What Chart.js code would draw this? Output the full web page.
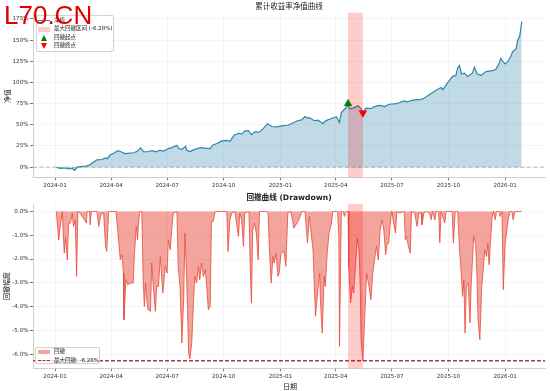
<!DOCTYPE html>
<html><head><meta charset="utf-8">
<script src="https://cdn.jsdelivr.net/npm/chart.js@4.4.0/dist/chart.umd.min.js"></script>
<style>
html,body{margin:0;padding:0;background:#fff;}
#wrap{position:relative;width:550px;height:391px;overflow:hidden;font-family:'DejaVu Sans','Noto Sans CJK SC',sans-serif;color:#222;}
canvas{position:absolute;left:0;}
#c1{top:0;}
#c2{top:196px;}
.t{position:absolute;white-space:nowrap;line-height:1;}
.c{transform:translate(-50%,-50%);}
.r{transform:translate(-50%,-50%) rotate(-90deg);}
.lg{position:absolute;background:rgba(255,255,255,0.8);border:1px solid rgba(204,204,204,0.9);border-radius:2px;box-sizing:border-box;}
.li{position:absolute;white-space:nowrap;line-height:1;font-size:5.5px;transform:translateY(-50%);}
</style>
</head><body>
<div id="wrap">
<canvas id="c1" width="550" height="196"></canvas>
<canvas id="c2" width="550" height="195"></canvas>

<div class="t c" style="left:289px;top:6.5px;font-size:7.5px;">累计收益率净值曲线</div>
<div class="t c" style="left:289px;top:197.7px;font-size:7.6px;font-weight:bold;">回撤曲线 (Drawdown)</div>
<div class="t r" style="left:7.5px;top:96px;font-size:7px;">净值</div>
<div class="t r" style="left:7px;top:286px;font-size:7px;">回撤幅度</div>
<div class="t c" style="left:290px;top:387px;font-size:7px;">日期</div>

<div class="lg" style="left:36px;top:15px;width:78px;height:37px;"></div>
<div style="position:absolute;left:38px;top:20px;width:12px;height:1.4px;background:#2E86AB;"></div>
<div class="li" style="left:54px;top:20.7px;">净值</div>
<div style="position:absolute;left:38px;top:27px;width:12px;height:4.5px;background:rgba(255,0,0,0.2);"></div>
<div class="li" style="left:54px;top:29.3px;">最大回撤区间 (-6.28%)</div>
<div style="position:absolute;left:40.5px;top:35px;width:0;height:0;border-left:3.5px solid transparent;border-right:3.5px solid transparent;border-bottom:6.5px solid green;"></div>
<div class="li" style="left:54px;top:38.3px;">回撤起点</div>
<div style="position:absolute;left:40.5px;top:42.5px;width:0;height:0;border-left:3.5px solid transparent;border-right:3.5px solid transparent;border-top:6.5px solid red;"></div>
<div class="li" style="left:54px;top:45.7px;">回撤终点</div>

<div class="lg" style="left:35px;top:347px;width:65px;height:16.5px;"></div>
<div style="position:absolute;left:38px;top:349.8px;width:12px;height:4.5px;background:rgba(231,76,60,0.5);"></div>
<div class="li" style="left:54px;top:352px;">回撤</div>
<div style="position:absolute;left:38px;top:360px;width:12px;height:0;border-top:1.5px dashed rgba(139,0,0,0.8);"></div>
<div class="li" style="left:54px;top:360.5px;">最大回撤: -6.28%</div>

<div class="t" style="left:4px;top:1.6px;font-size:26px;font-family:'Liberation Sans',Arial,sans-serif;color:#e00000;">L70.CN</div>
</div>

<script>
// ---------- data ----------
const navDates = ['2024-01-03','2024-01-10','2024-01-16','2024-01-23','2024-01-29','2024-02-02','2024-02-06','2024-02-11','2024-02-19','2024-02-27',
'2024-03-09','2024-03-17','2024-03-23','2024-03-26','2024-03-30','2024-04-05','2024-04-12','2024-04-16','2024-04-24','2024-05-01',
'2024-05-08','2024-05-14','2024-05-19','2024-05-24','2024-06-01','2024-06-07','2024-06-12','2024-06-20','2024-06-26','2024-07-03',
'2024-07-09','2024-07-17','2024-07-20','2024-07-25','2024-07-31','2024-08-02','2024-08-07','2024-08-15','2024-08-24','2024-09-01',
'2024-09-09','2024-09-13','2024-09-20','2024-09-28','2024-10-06','2024-10-11','2024-10-18','2024-10-25','2024-10-30','2024-11-04',
'2024-11-10','2024-11-15','2024-11-21','2024-11-27','2024-12-04','2024-12-11','2024-12-18','2024-12-27','2025-01-05','2025-01-13',
'2025-01-22','2025-01-30','2025-02-05','2025-02-10','2025-02-14','2025-02-17','2025-02-25','2025-03-03','2025-03-11','2025-03-16',
'2025-03-22','2025-03-27','2025-04-02','2025-04-07','2025-04-10','2025-04-14','2025-04-18','2025-04-21','2025-04-23','2025-04-30',
'2025-05-07','2025-05-12','2025-05-15','2025-05-20','2025-05-27','2025-06-06','2025-06-13','2025-06-19','2025-06-27','2025-07-08',
'2025-07-13','2025-07-21','2025-07-26','2025-08-01','2025-08-07','2025-08-18','2025-08-23','2025-09-01','2025-09-11','2025-09-19',
'2025-09-22','2025-09-30','2025-10-08','2025-10-13','2025-10-16','2025-10-19','2025-10-22','2025-10-27','2025-11-01','2025-11-09',
'2025-11-12','2025-11-17','2025-11-23','2025-12-01','2025-12-06','2025-12-12','2025-12-17','2025-12-22','2025-12-25','2025-12-29',
'2026-01-01','2026-01-05','2026-01-10','2026-01-13','2026-01-19','2026-01-21','2026-01-25','2026-01-28'];
const navValues = [-0.4,-1.5,-1.0,-2.0,-1.5,-3.9,0.0,0.5,0.8,3.0,
8.6,9.0,10.9,10.0,14.0,16.5,19.5,18.5,16.0,16.5,
17.0,19.0,22.7,18.0,18.5,19.5,18.0,19.9,19.0,21.9,
23.0,25.8,22.0,21.0,24.6,20.0,18.4,21.0,23.0,22.5,
22.0,25.8,28.0,31.0,31.5,30.5,37.6,40.0,39.0,42.6,
43.0,38.4,42.0,41.0,45.4,51.3,48.0,47.5,49.0,49.5,
52.4,55.0,56.0,59.8,58.0,58.5,54.8,55.5,51.6,55.0,
56.5,58.0,59.6,52.8,64.5,67.5,70.4,75.0,69.0,70.0,
72.4,69.0,64.0,69.6,69.0,72.4,73.0,71.5,74.3,75.0,
76.0,78.2,77.0,78.5,79.4,80.0,81.7,86.0,90.8,94.0,
91.5,99.8,107.6,108.0,117.4,120.0,110.0,111.0,107.0,111.0,
118.0,110.0,108.4,113.0,113.5,114.0,115.5,122.0,128.4,124.0,
122.0,124.5,130.0,136.3,140.0,148.7,155.8,172.0];

const ddDates = ['2024-01-03','2024-01-07','2024-01-10','2024-01-13','2024-01-14','2024-01-16','2024-01-18','2024-01-21','2024-01-23','2024-01-26',
'2024-01-29','2024-01-31','2024-02-03','2024-02-05','2024-02-07','2024-02-11','2024-02-16','2024-02-21','2024-02-22','2024-02-26',
'2024-02-27','2024-02-29','2024-03-09','2024-03-12','2024-03-15','2024-03-17','2024-03-20','2024-03-23','2024-03-25','2024-03-28',
'2024-04-09','2024-04-12','2024-04-16','2024-04-19','2024-04-21','2024-04-22','2024-04-25','2024-04-28','2024-05-02','2024-05-07',
'2024-05-09','2024-05-12','2024-05-14','2024-05-16','2024-05-18','2024-05-21','2024-05-23','2024-05-25','2024-05-27','2024-05-29',
'2024-05-31','2024-06-04','2024-06-06','2024-06-09','2024-06-12','2024-06-14','2024-06-17','2024-06-20','2024-06-24','2024-06-28',
'2024-07-01','2024-07-03','2024-07-06','2024-07-09','2024-07-11','2024-07-17','2024-07-19','2024-07-22','2024-07-25','2024-07-28',
'2024-07-30','2024-08-02','2024-08-05','2024-08-07','2024-08-10','2024-08-13','2024-08-15','2024-08-18','2024-08-21','2024-08-23',
'2024-08-26','2024-08-29','2024-09-01','2024-09-03','2024-09-06','2024-09-09','2024-09-11','2024-09-14','2024-09-17','2024-10-06',
'2024-10-08','2024-10-11','2024-10-14','2024-10-19','2024-10-25','2024-10-27','2024-10-30','2024-11-02','2024-11-04','2024-11-11',
'2024-11-13','2024-11-15','2024-11-17','2024-11-20','2024-11-23','2024-11-26','2024-11-28','2024-12-09','2024-12-12','2024-12-14',
'2024-12-17','2024-12-20','2024-12-22','2024-12-25','2024-12-28','2024-12-30','2025-01-02','2025-01-07','2025-01-10','2025-01-13',
'2025-01-18','2025-01-23','2025-01-31','2025-02-05','2025-02-10','2025-02-14','2025-02-17','2025-02-23','2025-02-27','2025-03-03',
'2025-03-06','2025-03-07','2025-03-10','2025-03-13','2025-03-15','2025-03-18','2025-03-21','2025-03-25','2025-03-27','2025-04-04',
'2025-04-06','2025-04-07','2025-04-10','2025-04-13','2025-04-15','2025-04-18','2025-04-21','2025-04-22','2025-04-25','2025-04-28',
'2025-04-30','2025-05-03','2025-05-06','2025-05-09','2025-05-11','2025-05-12','2025-05-15','2025-05-16','2025-05-18','2025-05-21',
'2025-05-25','2025-05-28','2025-05-31','2025-06-03','2025-06-06','2025-06-09','2025-06-12','2025-06-15','2025-06-18','2025-06-21',
'2025-06-23','2025-06-26','2025-06-29','2025-07-01','2025-07-04','2025-07-07','2025-07-09','2025-07-13','2025-07-21','2025-07-23',
'2025-07-25','2025-07-28','2025-07-31','2025-08-02','2025-08-07','2025-08-11','2025-08-14','2025-08-18','2025-08-19','2025-08-22',
'2025-08-26','2025-08-31','2025-09-03','2025-09-05','2025-09-09','2025-09-11','2025-09-15','2025-09-17','2025-09-19','2025-09-25',
'2025-09-27','2025-10-07','2025-10-09','2025-10-12','2025-10-16','2025-10-19','2025-10-21','2025-10-24','2025-10-26','2025-10-28',
'2025-10-30','2025-11-02','2025-11-05','2025-11-07','2025-11-11','2025-11-14','2025-11-16','2025-11-18','2025-11-21','2025-11-24',
'2025-11-26','2025-11-29','2025-12-02','2025-12-04','2025-12-06','2025-12-08','2025-12-11','2025-12-13','2025-12-16','2025-12-18',
'2025-12-22','2025-12-24','2025-12-27','2025-12-29','2026-01-01','2026-01-04','2026-01-06','2026-01-09','2026-01-12','2026-01-14',
'2026-01-17','2026-01-28'];
const ddValues = [0,-1.19,-0.49,0,-0.77,-1.75,-1.1,-2.03,-0.49,-0.49,
-0.07,-0.63,-0.35,-2.73,0,-0.07,-0.28,-0.49,0,0,
-0.56,0,0,-0.63,-0.21,-0.07,-0.07,-1.47,-1.68,0,
0,-0.84,-2.03,-1.82,-2.59,-4.55,-2.87,-3.08,-3.01,-3.01,
-1.75,-0.63,-1.19,-0.35,0,0,-2.73,-3.99,-3.01,-3.71,
-4.13,-4.2,-2.17,-3.29,-4.2,-3.15,-3.15,-1.89,-3.43,-2.31,
-2.59,-1.19,-1.61,-0.63,-0.07,0,-2.31,-3.15,-5.53,-3.57,
-0.91,-3.01,-5.95,-6.2,-5.53,-3.71,-2.73,-3.01,-2.31,-2.87,
-2.17,-2.73,-2.45,-3.01,-4.13,-3.99,-0.42,-0.42,0,0,
-1.68,-0.35,-0.07,0,-1.05,-0.07,-0.35,-1.47,-0.07,0,
-2.31,-3.85,-0.77,-0.49,-0.91,-2.03,0,0,-0.07,-1.47,
-3.01,-1.89,-2.17,-1.75,-2.73,-2.59,-1.75,-1.68,-2.31,-0.07,
0,-0.7,-0.35,0,0,-1.33,-0.21,-1.61,-4.41,-3.29,
-2.59,-3.71,-5.11,-2.73,-3.15,-1.75,-0.91,-0.49,0,0,
-1.05,-5.67,0,0,-0.21,0,0,-2.31,-3.85,-3.15,
-3.43,-2.31,-1.12,-1.75,-3.43,-5.39,-6.28,-5.67,-4.41,-2.59,
-3.15,-3.71,-2.59,-2.03,-1.47,-2.03,-0.77,-0.35,-0.77,-1.82,
-1.4,-1.33,-0.35,0,-0.49,-0.91,0,-0.07,0,-1.19,
-1.05,-1.47,-1.75,0,-0.07,-0.63,-0.07,-0.07,-0.56,-0.07,
0,-0.07,-0.35,0,-0.35,0,0,-1.33,0,-0.49,
0,0,-1.33,0,0,-1.61,-2.31,-3.57,-2.87,-5.11,
-3.15,-3.01,-4.69,-3.01,-1.05,-1.33,-2.45,-4.55,-5.39,-3.15,
-2.59,-1.61,-1.89,-1.33,-2.24,-1.33,-0.21,0,-0.35,0,
0,-0.21,0,-3.29,-1.33,-0.77,-0.35,0,0,-0.35,
0,0];

const peakDate = '2025-04-21', peakValue = 75.0;
const troughDate = '2025-05-15', troughValue = 64.0;
const maxDrawdown = -6.28;

const xTickLabels = ['2024-01','2024-04','2024-07','2024-10','2025-01','2025-04','2025-07','2025-10','2026-01'];
const navTicks = [0,25,50,75,100,125,150,175];
const ddTicks = [0,-1,-2,-3,-4,-5,-6];

// ---------- chart ----------
const toMs = s => Date.parse(s + 'T00:00:00Z');
const firstMs = toMs(navDates[0]), lastMs = toMs(navDates[navDates.length - 1]);
const spanMs = lastMs - firstMs;
const xMin = firstMs - 0.05 * spanMs, xMax = lastMs + 0.05 * spanMs;

const tickFont = {family: "'DejaVu Sans', sans-serif", size: 5.6};
const gridCfg = {color: 'rgba(0,0,0,0.055)', tickColor: '#555', tickLength: 3, lineWidth: 0.8};
const borderCfg = {color: '#cfcfcf', width: 1};

function xScale(h) {
  return {
    type: 'linear', min: xMin, max: xMax,
    afterBuildTicks: s => { s.ticks = xTickLabels.map(l => ({value: toMs(l + '-01')})); },
    afterFit: s => { s.height = h; },
    ticks: {autoSkip: false, maxRotation: 0, minRotation: 0, padding: 1.5, color: '#333', font: tickFont,
      callback: (v, i) => xTickLabels[i]},
    grid: gridCfg, border: borderCfg
  };
}
function yScale(min, max, vals, fmt) {
  return {
    type: 'linear', min: min, max: max,
    afterBuildTicks: s => { s.ticks = vals.map(v => ({value: v})); },
    afterFit: s => { s.width = 33; },
    ticks: {padding: 1.5, color: '#333', font: tickFont, callback: fmt},
    grid: gridCfg, border: borderCfg
  };
}

const topOverlay = {
  id: 'topOverlay',
  afterDatasetDraw(chart, args) {
    if (args.index !== 0) return;
    const {ctx, chartArea: a, scales: {x, y}} = chart;
    ctx.save();
    const y0 = y.getPixelForValue(0);
    ctx.strokeStyle = 'rgba(128,128,128,0.55)';
    ctx.lineWidth = 1;
    ctx.setLineDash([4, 2.5]);
    ctx.beginPath(); ctx.moveTo(a.left, y0); ctx.lineTo(a.right, y0); ctx.stroke();
    ctx.setLineDash([]);
    const x1 = x.getPixelForValue(toMs(peakDate)), x2 = x.getPixelForValue(toMs(troughDate));
    ctx.fillStyle = 'rgba(255,0,0,0.2)';
    ctx.fillRect(x1, a.top, x2 - x1, a.bottom - a.top);
    ctx.restore();
  }
};
const botOverlay = {
  id: 'botOverlay',
  afterDatasetDraw(chart, args) {
    if (args.index !== 0) return;
    const {ctx, chartArea: a, scales: {x, y}} = chart;
    ctx.save();
    const x1 = x.getPixelForValue(toMs(peakDate)), x2 = x.getPixelForValue(toMs(troughDate));
    ctx.fillStyle = 'rgba(255,0,0,0.2)';
    ctx.fillRect(x1, a.top, x2 - x1, a.bottom - a.top);
    const ym = y.getPixelForValue(maxDrawdown);
    ctx.strokeStyle = 'rgba(139,0,0,0.75)';
    ctx.lineWidth = 1.5;
    ctx.setLineDash([4, 2]);
    ctx.beginPath(); ctx.moveTo(a.left, ym); ctx.lineTo(a.right, ym); ctx.stroke();
    ctx.restore();
  }
};

const baseOpts = {responsive: false, animation: false, devicePixelRatio: 1,
  plugins: {legend: {display: false}, tooltip: {enabled: false}, title: {display: false}}};

new Chart(document.getElementById('c1'), {
  type: 'line',
  data: {datasets: [
    {data: navDates.map((d, i) => ({x: toMs(d), y: navValues[i]})), borderColor: '#2E86AB', borderWidth: 1.2,
     pointRadius: 0, fill: {target: {value: 0}}, backgroundColor: 'rgba(46,134,171,0.3)', tension: 0, order: 3},
    {type: 'scatter', data: [{x: toMs(peakDate), y: peakValue}], pointStyle: 'triangle', pointRadius: 4.5,
     backgroundColor: 'green', borderColor: 'green', borderWidth: 0.5, order: 1},
    {type: 'scatter', data: [{x: toMs(troughDate), y: troughValue}], pointStyle: 'triangle', rotation: 180, pointRadius: 4.5,
     backgroundColor: 'red', borderColor: 'red', borderWidth: 0.5, order: 2}
  ]},
  options: Object.assign({}, baseOpts, {
    layout: {padding: {top: 12.7, right: 5, left: 0, bottom: 0}},
    scales: {x: xScale(18.7), y: yScale(-12, 182.4, navTicks, v => v + '%')}
  }),
  plugins: [topOverlay]
});

new Chart(document.getElementById('c2'), {
  type: 'line',
  data: {datasets: [
    {data: ddDates.map((d, i) => ({x: toMs(d), y: ddValues[i]})), borderColor: 'rgba(231,76,60,0.9)', borderWidth: 0.9,
     pointRadius: 0, fill: {target: {value: 0}}, backgroundColor: 'rgba(231,76,60,0.5)', tension: 0}
  ]},
  options: Object.assign({}, baseOpts, {
    layout: {padding: {top: 8, right: 5, left: 0, bottom: 0}},
    scales: {x: xScale(22.7), y: yScale(-6.594, 0.314, ddTicks, v => v.toFixed(1) + '%')}
  }),
  plugins: [botOverlay]
});
</script>
</body></html>
